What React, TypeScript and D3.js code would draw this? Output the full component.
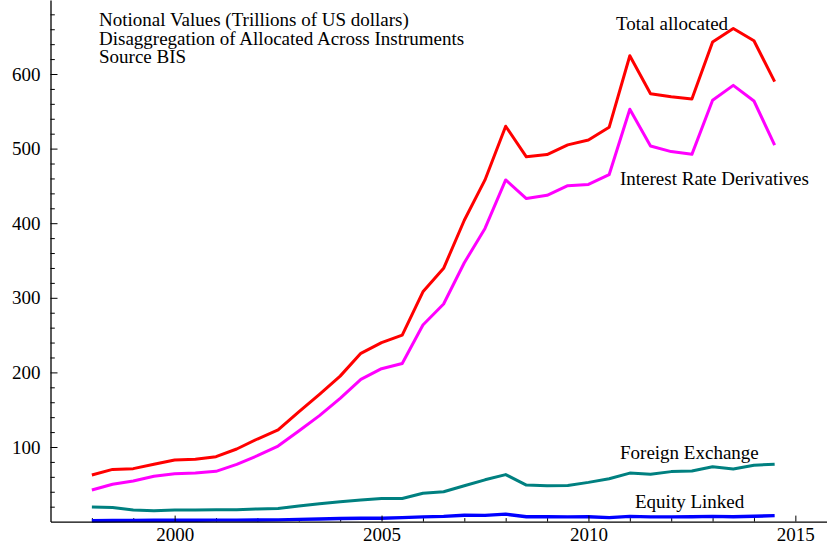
import React, { useEffect, useRef } from "react";
import * as d3 from "d3";

// ---- Data (Notional values, trillions of US dollars, BIS) ----
const periods = [
  1998, 1998.5, 1999, 1999.5, 2000, 2000.5, 2001, 2001.5, 2002, 2002.5,
  2003, 2003.5, 2004, 2004.5, 2005, 2005.5, 2006, 2006.5, 2007, 2007.5,
  2008, 2008.5, 2009, 2009.5, 2010, 2010.5, 2011, 2011.5, 2012, 2012.5,
  2013, 2013.5, 2014, 2014.5,
];
const totalAllocated = [
  62.5, 70, 71, 76.8, 82.6, 83.5, 87, 97.3, 110.7, 122.8,
  147, 170.6, 195, 225.6, 240, 250, 308, 339.5, 404, 458,
  530, 489, 492, 505, 511.5, 528.5, 624.5, 573.6, 569.6, 566.5,
  643, 661, 644.6, 589.7,
];
const interestRate = [
  42.4, 50, 54.4, 60.7, 64.2, 65, 67.4, 76.8, 88.3, 101.3,
  121.4, 142, 165.3, 190.7, 205, 212, 263.5, 291.7, 347, 393,
  458, 433, 437.4, 450.3, 452, 465, 552.7, 503.5, 496, 492.3,
  564.7, 584.8, 563.8, 504.8,
];
const foreignExchange = [
  19.5, 19, 15.5, 14.5, 15.5, 15.5, 16, 16, 17, 17.5,
  21, 24, 26.5, 29, 31, 31, 38, 40, 48, 56,
  63, 49, 48, 48.5, 52.6, 57.5, 65, 63.4, 67, 67.8,
  73.6, 70.5, 75.5, 77,
];
const equityLinked = [
  1.2, 1.4, 1.6, 1.8, 1.9, 1.9, 2, 2, 2.2, 2.3,
  3, 3.5, 4.2, 4.5, 4.5, 5.3, 6.4, 7, 8.5, 8.3,
  10, 6.5, 6.5, 6.3, 6.5, 5.3, 7, 6.3, 6.3, 6.5,
  7, 6.5, 7.2, 8,
];
const seriesNames = ["Total allocated", "Interest Rate Derivatives", "Foreign Exchange", "Equity Linked"];
const yMajorTicks = [100, 200, 300, 400, 500, 600];
const xMajorTicks = [2000, 2005, 2010, 2015];
const titleLines = [
  "Notional Values (Trillions of US dollars)",
  "Disaggregation of Allocated Across Instruments",
  "Source BIS",
];

// ---- Layout / style ----
const W = 827;
const H = 541;
const FONT = "'Liberation Serif', 'Times New Roman', serif";
const FS = 19;
const colors = ["#ff0000", "#ff00ff", "#008080", "#0000ff"];
const widths = [3, 3, 3, 3.4];
const labelPos = [
  { x: 616, y: 30 },
  { x: 620, y: 185 },
  { x: 620, y: 459 },
  { x: 635, y: 508 },
];

export default function App() {
  const xAxisRef = useRef<SVGGElement>(null);
  const xMinorRef = useRef<SVGGElement>(null);
  const yAxisRef = useRef<SVGGElement>(null);
  const yMinorRef = useRef<SVGGElement>(null);

  const x0 = 50.5;
  const y0 = 521.6;
  const x = d3.scaleLinear().domain([1997, 2015.765]).range([x0, W]);
  const y = d3.scaleLinear().domain([0, 699.2]).range([y0, 0]);

  const allSeries = [totalAllocated, interestRate, foreignExchange, equityLinked];
  const line = d3
    .line<number>()
    .x((_, i) => x(periods[i]))
    .y((d) => y(d));

  useEffect(() => {
    const xMinor = d3.range(1998, 2016).filter((v) => v % 5 !== 0);
    const yMinor = d3.range(20, 700, 20).filter((v) => v % 100 !== 0);

    const style = (sel: any) => {
      sel.selectAll(".domain").attr("stroke", "#000").attr("stroke-width", 1.3);
      sel.selectAll(".tick line").attr("stroke", "#000").attr("stroke-width", 1);
      sel.selectAll("text")
        .attr("font-family", FONT)
        .attr("font-size", FS)
        .attr("fill", "#000");
    };

    const gx = d3.select(xAxisRef.current!);
    gx.call(
      d3.axisBottom(x).tickValues(xMajorTicks).tickSizeInner(-6).tickSizeOuter(0).tickPadding(6.2).tickFormat(d3.format("d"))
    );
    style(gx);

    const gxm = d3.select(xMinorRef.current!);
    gxm.call(d3.axisBottom(x).tickValues(xMinor).tickSizeInner(-3.5).tickSizeOuter(0).tickFormat(() => ""));
    gxm.select(".domain").remove();
    style(gxm);

    const gy = d3.select(yAxisRef.current!);
    gy.call(
      d3.axisLeft(y).tickValues(yMajorTicks).tickSizeInner(-7).tickSizeOuter(0).tickPadding(10).tickFormat(d3.format("d"))
    );
    style(gy);

    const gym = d3.select(yMinorRef.current!);
    gym.call(d3.axisLeft(y).tickValues(yMinor).tickSizeInner(-4.3).tickSizeOuter(0).tickFormat(() => ""));
    gym.select(".domain").remove();
    style(gym);
  }, []);

  return (
    <svg
      width={W}
      height={H}
      style={{ position: "absolute", left: 0, top: 0, background: "#fff" }}
    >
      <g ref={xMinorRef} transform={`translate(0,${y0})`} />
      <g ref={yMinorRef} transform={`translate(${x0},0)`} />
      {allSeries.map((s, i) => (
        <path
          key={seriesNames[i]}
          d={line(s) || ""}
          fill="none"
          stroke={colors[i]}
          strokeWidth={widths[i]}
          strokeLinejoin="round"
        />
      ))}
      <g ref={xAxisRef} transform={`translate(0,${y0})`} />
      <g ref={yAxisRef} transform={`translate(${x0},0)`} />
      {titleLines.map((t, i) => (
        <text key={t} x={99} y={26 + i * 18.5} fontFamily={FONT} fontSize={FS} fill="#000">
          {t}
        </text>
      ))}
      {seriesNames.map((n, i) => (
        <text key={n} x={labelPos[i].x} y={labelPos[i].y} fontFamily={FONT} fontSize={FS} fill="#000">
          {n}
        </text>
      ))}
    </svg>
  );
}
